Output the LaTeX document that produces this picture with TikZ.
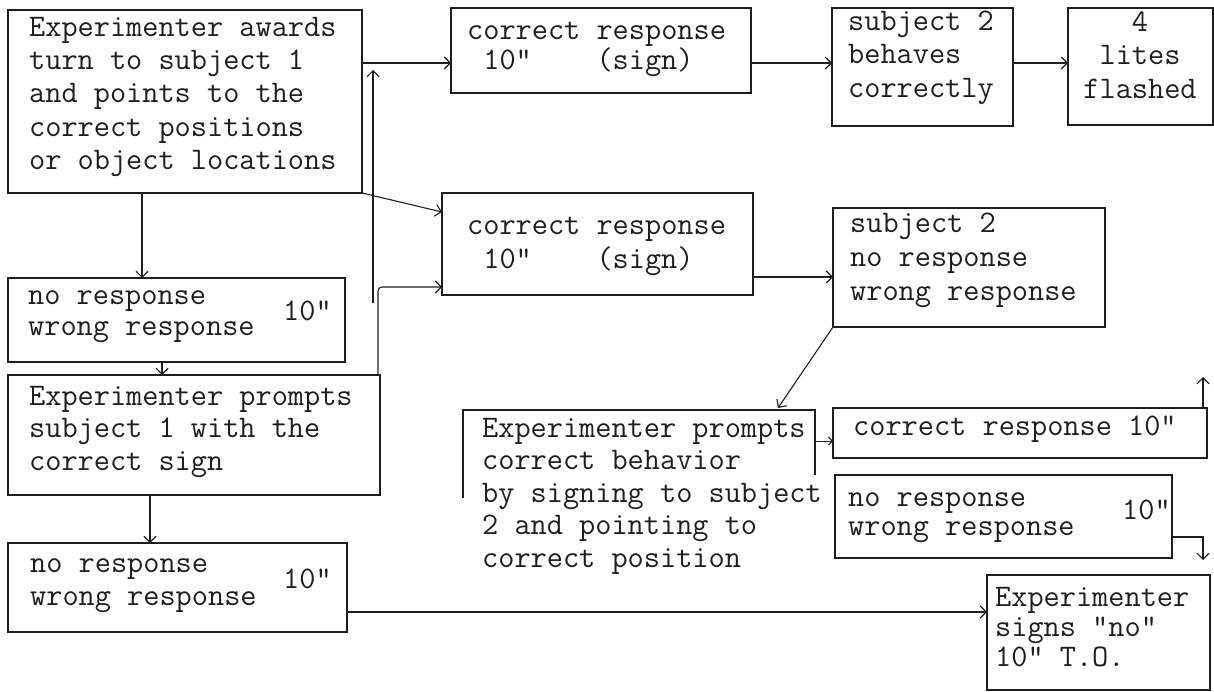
\documentclass[tikz,border=0pt]{standalone}
\usepackage{fontspec}
\usetikzlibrary{arrows.meta}
\definecolor{ink}{HTML}{1E1E1E}
\newcommand\fstrut{\rule{0pt}{25pt}}
\tikzset{
  box/.style={draw=ink, line width=1.3pt, inner sep=0pt, outer sep=0pt, anchor=north west},
  openbox/.style={inner sep=0pt, outer sep=0pt, anchor=north west},
  txt/.style={inner sep=0pt, anchor=north west, align=left, text=ink,
              font=\ttfamily\fontsize{31.4}{#1}\selectfont},
  txt/.default=33,
  one/.style={inner sep=0pt, anchor=base west, text=ink,
              font=\ttfamily\fontsize{31.4}{33}\selectfont},
  arr/.style={draw=ink, line width=1.1pt, -{Straight Barb[length=6pt,width=12pt]}},
  smallarr/.style={draw=ink, line width=0.9pt, -{Straight Barb[length=4pt,width=8pt]}},
}
\begin{document}
\begin{tikzpicture}[x=1pt,y=-1pt]
\useasboundingbox (0,0) rectangle (1214,692);

% boxes
\node[box, minimum width=354pt, minimum height=183pt] (A) at (8,10) {};
\node[box, minimum width=300pt, minimum height=85pt]  (B) at (451,8) {};
\node[box, minimum width=181pt, minimum height=118pt] (C) at (832,8) {};
\node[box, minimum width=145pt, minimum height=117pt] (D) at (1068,8) {};
\node[box, minimum width=311pt, minimum height=102pt] (E) at (442,193) {};
\node[box, minimum width=272pt, minimum height=119pt] (H) at (833,208) {};
\node[box, minimum width=337pt, minimum height=84pt]  (G) at (8,278) {};
\node[box, minimum width=372pt, minimum height=120pt] (F) at (8,375) {};
\node[box, minimum width=339pt, minimum height=89pt]  (M) at (8,543) {};
\node[openbox, minimum width=352pt, minimum height=88pt] (I) at (463,410) {};
\draw[ink, line width=1.3pt] (I.south west) -- (I.north west) -- (I.north east) -- ([yshift=-65pt]I.north east);
\node[box, minimum width=374pt, minimum height=50pt]  (J) at (833,408) {};
\node[box, minimum width=337pt, minimum height=83pt]  (K) at (835,475) {};
\node[box, minimum width=223pt, minimum height=115pt] (L) at (987,575) {};

% texts
\node[txt=33.3] (At) at (29,11) {\fstrut Experimenter awards\\turn to subject 1\\and points to the\\correct positions\\or object locations};
\node[txt=30] (Bt) at (467,14) {\fstrut correct response\\\phantom{0}10"\phantom{0000}(sign)};
\node[txt=33.5] (Ct) at (848,5) {\fstrut subject 2\\behaves\\correctly};
\node[txt=33.5, anchor=north, align=center] (Dt) at (1140,6) {\fstrut 4\\lites\\flashed};
\node[txt=34] (Et) at (467,209) {\fstrut correct response\\\phantom{0}10"\phantom{0000}(sign)};
\node[txt=34] (Ht) at (850,207) {\fstrut subject 2\\no response\\wrong response};
\node[txt=31] (Gt) at (28,279) {\fstrut no response\\wrong response};
\node[one] (Gn) at (283,320) {10"};
\node[txt=32.5] (Ft) at (29,380) {\fstrut Experimenter prompts\\subject 1 with the\\correct sign};
\node[txt=32.5] (It) at (482,412) {\fstrut Experimenter prompts\\correct behavior\\by signing to subject\\2 and pointing to\\correct position};
\node[one] (Jt) at (853,435) {correct response 10"};
\node[txt=29] (Kt) at (848,481) {\fstrut no response\\wrong response};
\node[one] (Kn) at (1122,519) {10"};
\node[txt=30] (Lt) at (995,581) {\fstrut Experimenter\\signs "no"\\10" T.O.};
\node[txt=33] (Mt) at (30,547) {\fstrut no response\\wrong response};
\node[one] (Mn) at (283,588) {10"};

% free ends
\coordinate (vbot) at (373,303);
\coordinate (vtop) at (373,70);
\coordinate (jtop) at (1203,377);

% connectors
\draw[arr] ([yshift=-53pt]A.north east) -- ([yshift=-55pt]B.north west);
\draw[arr] (vbot) -- (vtop);
\draw[arr] (A.south east) -- ([yshift=-19pt]E.north west);
\draw[arr, rounded corners=4pt] ([xshift=-2pt]F.north east) |- ([yshift=-94pt]E.north west);
\draw[arr] ([yshift=-55pt]B.north east) -- ([yshift=-55pt]C.north west);
\draw[arr] ([yshift=-55pt]C.north east) -- ([yshift=-55pt]D.north west);
\draw[arr] ([yshift=-84pt]E.north east) -- ([yshift=-69pt]H.north west);
\draw[arr] (H.south west) -- ([xshift=315pt,yshift=2pt]I.north west);
\draw[smallarr] ([yshift=-31pt]I.north east) -- ([yshift=-33pt]J.north west);
\draw[arr] ([xshift=-4pt]J.north east) -- (jtop);
\draw[arr] ([yshift=-62pt]K.north east) -| ([xshift=-7pt,yshift=15pt]L.north east);
\draw[arr] ([yshift=-69pt]M.north east) -- ([yshift=-37pt]L.north west);
\draw[arr] ([xshift=134pt]A.south west) -- ([xshift=134pt]G.north west);
\draw[arr] ([xshift=154pt]G.south west) -- ([xshift=154pt]F.north west);
\draw[arr] ([xshift=142pt]F.south west) -- ([xshift=142pt]M.north west);
\end{tikzpicture}
\end{document}
